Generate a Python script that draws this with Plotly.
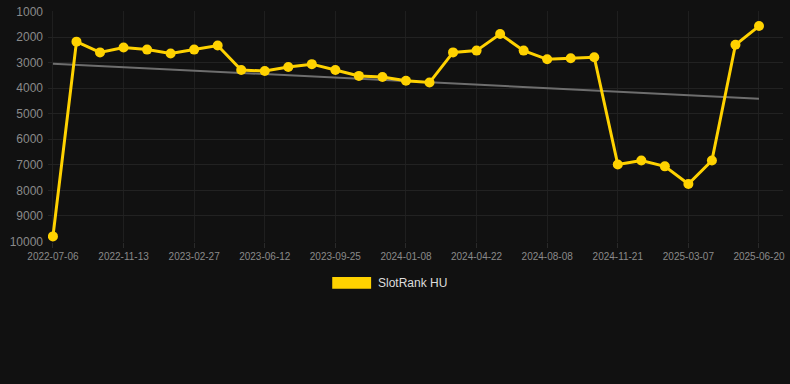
import plotly.graph_objects as go

dates = ["2022-07-06", "2022-08-19", "2022-09-30", "2022-11-13", "2022-12-18", "2023-01-22",
         "2023-02-27", "2023-04-03", "2023-05-08", "2023-06-12", "2023-07-17", "2023-08-21",
         "2023-09-25", "2023-10-30", "2023-12-04", "2024-01-08", "2024-02-12", "2024-03-18",
         "2024-04-22", "2024-05-28", "2024-07-03", "2024-08-08", "2024-09-12", "2024-10-17",
         "2024-11-21", "2024-12-26", "2025-01-31", "2025-03-07", "2025-04-11", "2025-05-16",
         "2025-06-20"]
ranks = [9800, 2180, 2600, 2410, 2490, 2640, 2490, 2330, 3290, 3330, 3170, 3060, 3290, 3520,
         3560, 3710, 3780, 2600, 2530, 1880, 2530, 2870, 2830, 2790, 6990, 6830, 7060, 7750,
         6830, 2300, 1570]
trend = [3040, 4410]
tick_labels = dates[::3]
y_ticks = [1000, 2000, 3000, 4000, 5000, 6000, 7000, 8000, 9000, 10000]
y_tick_text = [str(v) for v in y_ticks]
series_name = "SlotRank HU"

YELLOW = "#FFD200"
fig = go.Figure()
fig.add_trace(go.Scatter(x=[dates[0], dates[-1]], y=trend, mode="lines",
                         line=dict(color="#6e6e6e", width=2), showlegend=False, hoverinfo="skip"))
fig.add_trace(go.Scatter(x=dates, y=ranks, mode="lines+markers", name=series_name,
                         line=dict(color=YELLOW, width=3),
                         marker=dict(color=YELLOW, size=10), showlegend=False))

L, R, T, B = 48, 5, 5, 142
PW, PH = 790 - L - R, 384 - T - B
fig.update_layout(
    width=790, height=384,
    paper_bgcolor="#111111", plot_bgcolor="#111111",
    margin=dict(l=L, r=R, t=T, b=B),
    font=dict(family="Liberation Sans, Arial, sans-serif", color="#8a8a8a"),
    showlegend=False,
)
fig.update_xaxes(type="category", categoryorder="array", categoryarray=dates,
                 tickvals=tick_labels, ticktext=tick_labels,
                 range=[-0.21, 31.02], showgrid=True, gridcolor="#1f1f1f", gridwidth=1,
                 zeroline=False, showline=False, ticks="outside", ticklen=5, tickcolor="#2a2a2a",
                 tickfont=dict(size=10, color="#8a8a8a"), ticklabeloverflow="allow")
fig.update_yaxes(autorange=False, range=[10020, 980], tickvals=y_ticks, ticktext=y_tick_text,
                 showgrid=True, gridcolor="#222222", gridwidth=1, zeroline=False, showline=False,
                 tickfont=dict(size=12, color="#8a8a8a"), ticks="", ticklabelstandoff=4,
                 ticklabeloverflow="allow")

def px_x(x):
    return (x - L) / PW

def px_y(y):
    return 1 - (y - T) / PH

fig.add_shape(type="rect", xref="paper", yref="paper",
              x0=px_x(333), x1=px_x(372), y0=px_y(290), y1=px_y(278),
              fillcolor=YELLOW, line=dict(width=0))
fig.add_annotation(xref="paper", yref="paper", x=px_x(377), y=px_y(284),
                   text=series_name, showarrow=False, xanchor="left", yanchor="middle",
                   font=dict(size=12, color="#dddddd"))

fig.write_html("out.html", config={"displayModeBar": False},
               post_script="document.body.style.margin='0';document.body.style.background='#111111';")
